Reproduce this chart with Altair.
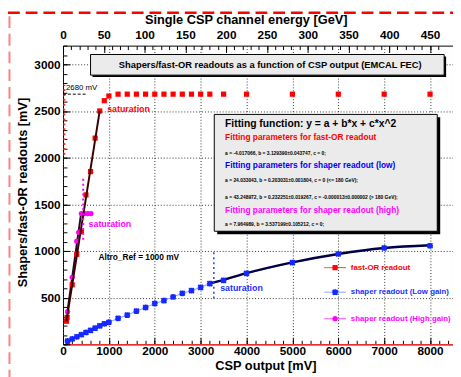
import altair as alt
import pandas as pd

# ---------------- data ----------------
red_x = [75, 90, 200, 300, 400, 500, 600, 700, 800, 900, 1000,
         1200, 1400, 1600, 1800, 2000, 2200, 2400, 2600, 2800, 3000, 3200,
         3500, 4000, 5000, 6000, 7000, 8000]
red_y = [247, 289, 637, 964, 1207, 1600, 1850, 2209, 2500, 2610, 2660,
         2680, 2680, 2680, 2680, 2680, 2680, 2680, 2680, 2680, 2680, 2680,
         2680, 2680, 2680, 2680, 2680, 2680]
red_fit_x = [75, 800]
red_fit_y = [247, 2500]

blue_x = [100, 200, 300, 400, 500, 600, 700, 800, 900, 1000,
          1200, 1400, 1600, 1800, 2000, 2200, 2400, 2600, 2800, 3000, 3200,
          3500, 4000, 5000, 6000, 7000, 8000]
blue_y = [35, 57, 80, 103, 127, 149, 173, 197, 219, 236,
          278, 313, 356, 394, 437, 468, 507, 546, 575, 610, 650,
          685, 760, 875, 968, 1032, 1055]
blue_fit_x = [3200, 3500, 4000, 5000, 6000, 7000, 8000]
blue_fit_y = [652, 690, 762, 878, 968, 1032, 1062]

mag_x = [100, 200, 300, 340, 400, 470, 540, 610]
mag_y = [349, 718, 1105, 1200, 1400, 1400, 1400, 1400]
mag_fit_x = [100, 395]
mag_fit_y = [362, 1405]

x_major = [0, 1000, 2000, 3000, 4000, 5000, 6000, 7000, 8000]
y_major = [500, 1000, 1500, 2000, 2500, 3000]
gev_major = [0, 50, 100, 150, 200, 250, 300, 350, 400, 450]
MV_PER_GEV = 8000 / 450

legend_labels = ["fast-OR readout", "shaper readout (Low gain)", "shaper readout (High gain)"]

FONT = "Liberation Sans"
xs = alt.Scale(domain=[0, 8500], nice=False, zero=False)
ys = alt.Scale(domain=[0, 3200], nice=False, zero=False)


def tick_axis(orient, values, size):
    return alt.Axis(orient=orient, values=values, tickSize=size, offset=-size,
                    labels=False, domain=False, grid=False, title=None,
                    ticks=True, tickColor="black", tickWidth=1)


gev_vals = [g * MV_PER_GEV for g in gev_major]
gev_minor = [g * 10 * MV_PER_GEV for g in range(47)]
x_minor = [v * 200 for v in range(43)]
y_minor = [v * 100 for v in range(33)]
y_major_t = [0] + y_major

ax_bottom = alt.Axis(orient="bottom", values=x_major, ticks=False, labelFlush=False, format="d",
                     labelFont=FONT, labelFontSize=12, labelFontWeight="bold", labelColor="black",
                     labelPadding=1, grid=True, gridDash=[1, 2], gridColor="#333", gridWidth=1,
                     domain=True, domainColor="#e83030", domainWidth=1.5,
                     title="CSP output [mV]", titleFont=FONT, titleFontSize=13, titleFontWeight="bold",
                     titleColor="black", titleX=206, titleY=26, titleBaseline="alphabetic",
                     titleAlign="center", titleAngle=0)
ax_top = alt.Axis(orient="top", values=gev_vals, ticks=False, labelFlush=False,
                  labelExpr="format(round(datum.value*450/8000), 'd')",
                  labelFont=FONT, labelFontSize=12, labelFontWeight="bold", labelColor="black",
                  labelPadding=4, grid=False, domain=False,
                  title="Single CSP channel energy [GeV]", titleFont=FONT, titleFontSize=13,
                  titleFontWeight="bold", titleColor="black", titleX=186, titleY=-23,
                  titleBaseline="alphabetic", titleAlign="center", titleAngle=0)
ax_left = alt.Axis(orient="left", values=y_major, ticks=False, labelFlush=False, format="d",
                   labelFont=FONT, labelFontSize=12, labelFontWeight="bold", labelColor="black",
                   labelPadding=3, grid=True, gridDash=[1, 2], gridColor="#333", gridWidth=1,
                   domain=False, title="Shapers/fast-OR readouts [mV]", titleFont=FONT,
                   titleFontSize=13, titleFontWeight="bold", titleColor="black",
                   titleX=-37, titleY=149, titleBaseline="alphabetic", titleAlign="center",
                   titleAngle=270)


def X(axis=None):
    return alt.X("x:Q", scale=xs, axis=axis)


def Y(axis=None):
    return alt.Y("y:Q", scale=ys, axis=axis)


red_df = pd.DataFrame({"x": red_x, "y": red_y})
blue_df = pd.DataFrame({"x": blue_x, "y": blue_y})
mag_df = pd.DataFrame({"x": mag_x, "y": mag_y})
red_fit_df = pd.DataFrame({"x": red_fit_x, "y": red_fit_y})
blue_fit_df = pd.DataFrame({"x": blue_fit_x, "y": blue_fit_y})
mag_fit_df = pd.DataFrame({"x": mag_fit_x, "y": mag_fit_y})

STAR = "M-1,-1L1,1M-1,1L1,-1M0,-1.2L0,1.2M-1.2,0L1.2,0"

layers = []
# boxes
title_box = pd.DataFrame({"x": [600], "x2": [8307], "y": [3105], "y2": [2884]})
fit_box = pd.DataFrame({"x": [3297], "x2": [8157], "y": [2463], "y2": [1211]})
for bdf, sh in [(title_box, 2), (fit_box, 3)]:
    layers.append(alt.Chart(bdf).mark_rect(color="black", xOffset=sh, x2Offset=sh,
                                           yOffset=sh, y2Offset=sh)
                  .encode(x=X(), x2="x2:Q", y=Y(), y2="y2:Q"))
    layers.append(alt.Chart(bdf).mark_rect(fill="#ebebeb", stroke="black", strokeWidth=1)
                  .encode(x=X(), x2="x2:Q", y=Y(), y2="y2:Q"))

# blue connecting line
layers.append(alt.Chart(blue_df).mark_line(color="#7f9cff", strokeWidth=1)
              .encode(x=X(tick_axis("top", gev_minor, 4)), y=Y(), order="x:Q"))
# fits
layers.append(alt.Chart(blue_fit_df).mark_line(color="#000048", strokeWidth=2.5, interpolate="monotone")
              .encode(x=X(tick_axis("top", gev_vals, 7)), y=Y()))
layers.append(alt.Chart(mag_fit_df).mark_line(color="#2a0830", strokeWidth=2)
              .encode(x=X(tick_axis("bottom", x_minor, 4)), y=Y()))
# points
layers.append(alt.Chart(mag_df).mark_point(shape="circle", filled=True, color="#ff00ff", size=28, opacity=1)
              .encode(x=X(tick_axis("bottom", x_major, 7)), y=Y(tick_axis("left", y_minor, 4))))
layers.append(alt.Chart(red_df).mark_point(shape="square", filled=True, color="#ff0000", size=28, opacity=1)
              .encode(x=X(ax_bottom), y=Y(ax_left)))
layers.append(alt.Chart(red_fit_df).mark_line(color="#3a0000", strokeWidth=2)
              .encode(x=X(), y=Y()))
layers.append(alt.Chart(blue_df).mark_point(shape=STAR, filled=False, stroke="#1428ff", strokeWidth=1.8,
                                            size=24, opacity=1)
              .encode(x=X(ax_top), y=Y(tick_axis("left", y_major_t, 7))))

# dotted markers
def seg(x1, x2, y1, y2, color, dash, width=1.5):
    d = pd.DataFrame({"x": [x1], "x2": [x2], "y": [y1], "y2": [y2]})
    return alt.Chart(d).mark_rule(color=color, strokeDash=dash, strokeWidth=width).encode(
        x=X(), x2="x2:Q", y=Y(), y2="y2:Q")

layers.append(seg(3287, 3287, 490, 995, "#2040ff", [2, 3]))
layers.append(seg(440, 440, 1120, 1775, "#ff00ff", [2, 3], 2))
layers.append(seg(30, 30, 2030, 2780, "#ff3030", [2, 3], 2))
layers.append(seg(0, 500, 2680, 2680, "black", [3, 2], 1))


def txt(x, y, text, color="black", size=9.0, weight="bold", align="left"):
    d = pd.DataFrame({"x": [x], "y": [y], "t": [text]})
    return alt.Chart(d).mark_text(align=align, baseline="middle", color=color, fontSize=size,
                                  fontWeight=weight, font=FONT).encode(x=X(), y=Y(), text="t:N")

layers.append(txt(64, 2747, "2680 mV", size=8, weight="normal"))
layers.append(txt(963, 2516, "saturation", color="#ff0000"))
layers.append(txt(557, 1284, "saturation", color="#ff00ff"))
layers.append(txt(3425, 600, "saturation", color="#2030ff"))
layers.append(txt(771, 937, "Altro_Ref = 1000 mV", size=8.5))
layers.append(txt(4517, 2995, "Shapers/fast-OR readouts as a function of CSP output (EMCAL FEC)",
                  size=9.5, align="center"))

layers.append(txt(3532, 2358, "Fitting function: y = a + b*x + c*x^2", size=10.5))
layers.append(txt(3532, 2221, "Fitting parameters for fast-OR readout", color="#ff0000", size=8.5))
layers.append(txt(3532, 2053, "a = -4.017066, b = 3.129390\u00b10.043747, c = 0;", size=5))
layers.append(txt(3532, 1916, "Fitting parameters for shaper readout (low)", color="#0000ff", size=8.5))
layers.append(txt(3532, 1758, "a = 24.033043, b = 0.203031\u00b10.001804, c = 0 (<= 180 GeV);", size=5))
layers.append(txt(3532, 1579, "a = 43.248972, b = 0.232251\u00b10.019267, c = -0.000013\u00b10.000002 (> 180 GeV);", size=5))
layers.append(txt(3532, 1442, "Fitting parameters for shaper readout (high)", color="#ff00ff", size=8.5))
layers.append(txt(3532, 1284, "a = 7.964989, b = 3.537199\u00b10.105212, c = 0;", size=5))

# legend
leg_y = [821, 558, 274]
leg_line_colors = ["#ff3030", "#7f9cff", "#ff40ff"]
leg_text_colors = ["#ff0000", "#2030ff", "#ff00ff"]
for i in range(3):
    layers.append(seg(5695, 6166, leg_y[i], leg_y[i], leg_line_colors[i], [1, 0], 1))
    layers.append(txt(6273, leg_y[i], legend_labels[i], color=leg_text_colors[i], size=8))
ld = pd.DataFrame({"x": [5930], "y": [leg_y[0]]})
layers.append(alt.Chart(ld).mark_point(shape="square", filled=True, color="#ff0000", size=28, opacity=1)
              .encode(x=X(), y=Y()))
ld = pd.DataFrame({"x": [5930], "y": [leg_y[1]]})
layers.append(alt.Chart(ld).mark_point(shape=STAR, filled=False, stroke="#1428ff", strokeWidth=1.8, size=24, opacity=1)
              .encode(x=X(), y=Y()))
ld = pd.DataFrame({"x": [5930], "y": [leg_y[2]]})
layers.append(alt.Chart(ld).mark_point(shape="circle", filled=True, color="#ff00ff", size=28, opacity=1)
              .encode(x=X(), y=Y()))

# dashed page border (decoration)
bd = pd.DataFrame({"a": [0]})
layers.append(alt.Chart(bd).mark_rule(color="#ff0000", strokeDash=[12, 6], strokeWidth=2.5)
              .encode(x=alt.value(-56), x2=alt.value(400), y=alt.value(-33.5)))
layers.append(alt.Chart(bd).mark_rule(color="#ff8080", strokeDash=[12, 6], strokeWidth=2)
              .encode(x=alt.value(-54.5), y=alt.value(-30), y2=alt.value(340)))

chart = alt.layer(*layers).resolve_axis(x="independent", y="independent").properties(
    width=397, height=304,
    autosize=alt.AutoSizeParams(type="none"),
    padding={"left": 56, "top": 35, "right": 0, "bottom": 30},
    background="white",
).configure_view(stroke="black", strokeWidth=1)

chart.save("out.html", embed_options={"renderer": "svg", "actions": False})
